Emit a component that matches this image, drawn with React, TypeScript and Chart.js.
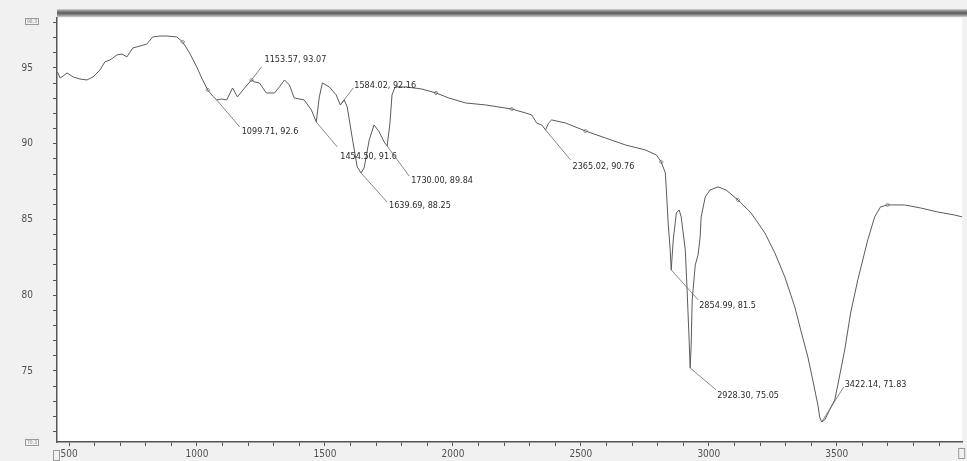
import React, { useEffect, useRef } from "react";
import { Chart, registerables } from "chart.js";

Chart.register(...registerables);

// ---- data (wavenumber cm-1, transmittance %) ----
const wavenumber: number[] = [
  455, 465, 477, 492, 516, 543, 570, 594, 621, 640, 660, 671, 687, 707, 726, 749, 777, 804, 827, 855,
  882, 921, 944, 971, 999, 1022, 1042, 1061, 1077, 1096, 1116, 1139, 1158, 1186, 1213, 1225, 1244, 1271, 1303, 1322,
  1342, 1361, 1380, 1419, 1447, 1466, 1478, 1490, 1517, 1544, 1560, 1575, 1587, 1606, 1626, 1641, 1653, 1673, 1692, 1712,
  1731, 1743, 1754, 1762, 1774, 1817, 1879, 1934, 1984, 2050, 2128, 2230, 2284, 2308, 2327, 2347, 2362, 2374, 2386, 2440,
  2518, 2596, 2674, 2752, 2795, 2814, 2830, 2834, 2841, 2849, 2853, 2861, 2873, 2884, 2892, 2908, 2915, 2923, 2927, 2931,
  2935, 2947, 2958, 2966, 2970, 2986, 3005, 3036, 3067, 3114, 3165, 3219, 3258, 3297, 3336, 3359, 3387, 3406, 3418, 3426,
  3433, 3441, 3453, 3472, 3492, 3504, 3531, 3554, 3582, 3621, 3648, 3671, 3698, 3765, 3827, 3893, 3959, 3990,
];
const transmittance: number[] = [
  94.74, 94.34, 94.47, 94.67, 94.41, 94.27, 94.21, 94.41, 94.87, 95.4, 95.53, 95.66, 95.86, 95.92, 95.73, 96.32, 96.45, 96.58, 97.05, 97.11,
  97.11, 97.05, 96.72, 95.99, 95.07, 94.21, 93.55, 93.15, 92.89, 92.95, 92.89, 93.68, 93.09, 93.68, 94.21, 94.08, 94.01, 93.35, 93.35, 93.75,
  94.21, 93.88, 93.02, 92.89, 92.23, 91.44, 93.09, 94.01, 93.75, 93.22, 92.56, 92.89, 92.43, 90.45, 88.47, 88.07, 88.4, 90.25, 91.24, 90.78,
  90.12, 89.85, 91.37, 93.22, 93.75, 93.75, 93.61, 93.35, 93.02, 92.69, 92.56, 92.29, 92.03, 91.9, 91.37, 91.24, 90.91, 91.37, 91.57, 91.37,
  90.84, 90.38, 89.92, 89.59, 89.26, 88.8, 88.07, 86.95, 84.77, 82.99, 81.67, 83.65, 85.43, 85.63, 85.17, 82.99, 80.35, 77.05, 75.2, 76.72,
  79.69, 82.0, 82.66, 83.84, 85.17, 86.49, 86.95, 87.15, 86.95, 86.29, 85.43, 84.11, 82.79, 81.2, 79.22, 77.71, 75.92, 74.41, 73.42, 72.76,
  71.96, 71.63, 71.77, 72.43, 73.09, 74.08, 76.39, 78.83, 81.01, 83.65, 85.17, 85.83, 85.96, 85.96, 85.76, 85.5, 85.3, 85.17,
];

// small peak-pick markers on the trace
const markerX: number[] = [944, 1042, 1213, 1934, 2230, 2518, 2814, 3114, 3698];
const markerY: number[] = [96.72, 93.55, 94.21, 93.35, 92.29, 90.84, 88.8, 86.29, 85.96];

// peak annotations
const peakLabels: string[] = [
  "1153.57, 93.07",
  "1099.71, 92.6",
  "1454.50, 91.6",
  "1584.02, 92.16",
  "1639.69, 88.25",
  "1730.00, 89.84",
  "2365.02, 90.76",
  "2854.99, 81.5",
  "2928.30, 75.05",
  "3422.14, 71.83",
];
const peakAtX: number[] = [1213, 1077, 1466, 1560, 1641, 1743, 2362, 2853, 2927, 3441];
const peakAtY: number[] = [94.21, 92.89, 91.44, 92.56, 88.07, 89.85, 90.91, 81.67, 75.2, 71.63];

// axis tick labels
const xTickLabels: string[] = ["500", "1000", "1500", "2000", "2500", "3000", "3500"];
const yTickLabels: string[] = ["75", "80", "85", "90", "95"];

const X_MIN = 453;
const X_MAX = 3990;
const Y_MIN = 70.31;
const Y_MAX = 98.3;

// layout of annotation leaders (pixel offsets) — style only
const leaderOffset: [number, number][] = [
  [10, -13], [23, 27], [21, 25], [13, -17], [26, 29], [22, 30], [25, 30], [27, 30], [26, 22], [22, -35],
];
const textOffset: [number, number][] = [
  [3, -7], [2, 5], [3, 10], [1, -2], [2, 4], [2, 5], [2, 7], [1, 6], [1, 6], [1, -2],
];

const FONT = '"Liberation Sans Narrow", "DejaVu Sans Condensed", "Liberation Sans", sans-serif';

const framePlugin = {
  id: "irFrame",
  beforeDraw(chart: any) {
    const { ctx, chartArea: a, width, height } = chart;
    ctx.save();
    ctx.fillStyle = "#f1f1f1";
    ctx.fillRect(0, 0, width, height);
    ctx.fillStyle = "#ffffff";
    ctx.fillRect(a.left, a.top, a.right - a.left, a.bottom - a.top);
    ctx.restore();
  },
  afterDatasetsDraw(chart: any) {
    const { ctx } = chart;
    const xs = chart.scales.x;
    const ys = chart.scales.y;
    ctx.save();
    ctx.strokeStyle = "#6a6a6a";
    ctx.lineWidth = 0.8;
    ctx.fillStyle = "#2a2a2a";
    ctx.font = `9px ${FONT}`;
    ctx.textBaseline = "middle";
    ctx.textAlign = "left";
    peakLabels.forEach((label, i) => {
      const px = xs.getPixelForValue(peakAtX[i]);
      const py = ys.getPixelForValue(peakAtY[i]);
      const ex = px + leaderOffset[i][0];
      const ey = py + leaderOffset[i][1];
      ctx.beginPath();
      ctx.moveTo(px, py);
      ctx.lineTo(ex, ey);
      ctx.stroke();
      ctx.fillText(label, ex + textOffset[i][0], ey + textOffset[i][1]);
    });
    ctx.restore();
  },
  afterDraw(chart: any) {
    const { ctx, chartArea: a, width } = chart;
    ctx.save();
    // top double rule
    const g = ctx.createLinearGradient(0, a.top - 9, 0, a.top - 1);
    g.addColorStop(0, "#d6d6d6");
    g.addColorStop(0.25, "#8a8a8a");
    g.addColorStop(0.5, "#5c5c5c");
    g.addColorStop(0.75, "#8f8f8f");
    g.addColorStop(1, "#cfcfcf");
    ctx.fillStyle = g;
    ctx.fillRect(a.left, a.top - 9, width - a.left, 8);
    // small range boxes
    ctx.strokeStyle = "#9a9a9a";
    ctx.lineWidth = 1;
    ctx.fillStyle = "#8a8a8a";
    ctx.font = `5px ${FONT}`;
    ctx.textBaseline = "middle";
    ctx.textAlign = "center";
    ctx.strokeRect(25.5, a.top + 0.5, 13, 6);
    ctx.fillText(Y_MAX.toFixed(1), 32, a.top + 3.5);
    ctx.strokeRect(25.5, a.bottom - 2.5, 13, 6);
    ctx.fillText(Y_MIN.toFixed(1), 32, a.bottom + 0.5);
    ctx.strokeRect(53.5, a.bottom + 8.5, 6, 10);
    ctx.strokeRect(a.right - 3.5, a.bottom + 6.5, 6, 10);
    ctx.restore();
  },
};

export default function App() {
  const ref = useRef<HTMLCanvasElement | null>(null);

  useEffect(() => {
    if (!ref.current) return;
    const xMinor: number[] = [];
    for (let v = Math.ceil(X_MIN / 100) * 100; v <= X_MAX; v += 100) xMinor.push(v);
    const yMinor: number[] = [];
    for (let v = Math.ceil(Y_MIN); v <= Y_MAX; v += 1) yMinor.push(v);

    const chart = new Chart(ref.current, {
      type: "line",
      data: {
        datasets: [
          {
            label: "IR",
            data: wavenumber.map((w, i) => ({ x: w, y: transmittance[i] })),
            borderColor: "#5e5a5b",
            borderWidth: 1,
            pointRadius: 0,
            tension: 0,
            fill: false,
          },
          {
            label: "marks",
            data: markerX.map((w, i) => ({ x: w, y: markerY[i] })),
            showLine: false,
            pointStyle: "rectRot",
            pointRadius: 2,
            pointBorderWidth: 0.8,
            pointBorderColor: "#777",
            pointBackgroundColor: "rgba(255,255,255,0)",
          } as any,
        ],
      },
      options: {
        animation: false,
        responsive: false,
        devicePixelRatio: 1,
        layout: { padding: { top: 18, right: 2, left: 0, bottom: 0 } },
        plugins: { legend: { display: false }, tooltip: { enabled: false } },
        scales: {
          x: {
            type: "linear",
            min: X_MIN,
            max: X_MAX,
            afterBuildTicks: (s: any) => {
              s.ticks = xMinor.map((v) => ({ value: v }));
            },
            afterFit: (s: any) => {
              s.height = 19;
              s.paddingLeft = 0;
              s.paddingRight = 0;
            },
            ticks: {
              autoSkip: false,
              maxRotation: 0,
              minRotation: 0,
              padding: 2,
              color: "#505050",
              font: { family: FONT, size: 10 },
              callback: (v: any) => (xTickLabels.includes(String(v)) ? String(v) : ""),
            },
            grid: { display: true, drawOnChartArea: false, drawTicks: true, tickLength: 4, tickColor: "#555" },
            border: { display: true, color: "#555", width: 1.5 },
          },
          y: {
            type: "linear",
            min: Y_MIN,
            max: Y_MAX,
            afterBuildTicks: (s: any) => {
              s.ticks = yMinor.map((v) => ({ value: v }));
            },
            afterFit: (s: any) => {
              s.width = 57;
              s.paddingTop = 0;
              s.paddingBottom = 0;
            },
            ticks: {
              autoSkip: false,
              padding: 20,
              color: "#505050",
              font: { family: FONT, size: 10 },
              callback: (v: any) => (yTickLabels.includes(String(v)) ? String(v) : ""),
            },
            grid: { display: true, drawOnChartArea: false, drawTicks: true, tickLength: 4, tickColor: "#555" },
            border: { display: true, color: "#555", width: 1.5 },
          },
        },
      },
      plugins: [framePlugin as any],
    });
    return () => chart.destroy();
  }, []);

  return (
    <div style={{ position: "fixed", left: 0, top: 0, width: 967, height: 461, background: "#f1f1f1" }}>
      <canvas ref={ref} width={967} height={461} style={{ display: "block", width: 967, height: 461 }} />
    </div>
  );
}
